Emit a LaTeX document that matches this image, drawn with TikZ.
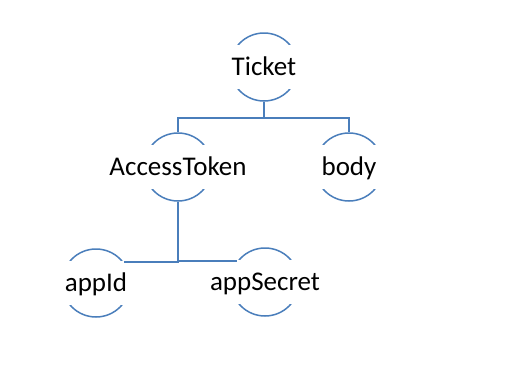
\documentclass[tikz,border=0pt]{standalone}
\usepackage{fontspec}
\setmainfont{Carlito}
\usetikzlibrary{positioning}
\definecolor{linkblue}{RGB}{74,126,187}
\tikzset{
  ring/.style={draw=linkblue,circle,line width=1.5pt,minimum size=68pt,inner sep=0pt},
  tag/.style={fill=white,inner sep=0pt,minimum width=74pt,minimum height=44pt,
    text height=22pt,text depth=6pt,font=\fontsize{27}{32}\selectfont},
  conn/.style={draw=linkblue,line width=1.5pt}
}
\begin{document}
\begin{tikzpicture}[x=1pt,y=-1pt]
  \useasboundingbox (0,0) rectangle (515,367);
  % circles
  \node[ring] (ticket) at (264,67) {};
  \node[ring] (access) at (178,167) {};
  \node[ring] (body) at (349,167) {};
  \node[ring] (appid) at (96,283) {};
  \node[ring] (appsecret) at (265,282) {};

  % labels
  \node[tag] (ticket-t) at (ticket) {Ticket};
  \node[tag] (access-t) at (access) {AccessToken};
  \node[tag] (body-t) at (body) {body};
  \node[tag] (appid-t) at (appid) {appId};
  \node[tag] (appsecret-t) at (appsecret) {appSecret};

  % links
  \draw[conn] (ticket.south) -- ++(0,16) -| (access.north);
  \draw[conn] (ticket.south) -- ++(0,16) -| (body.north);
  \draw[conn] (access.south) |- (appid.37);
  \draw[conn] (access.south) |- (appsecret.143);
\end{tikzpicture}
\end{document}
